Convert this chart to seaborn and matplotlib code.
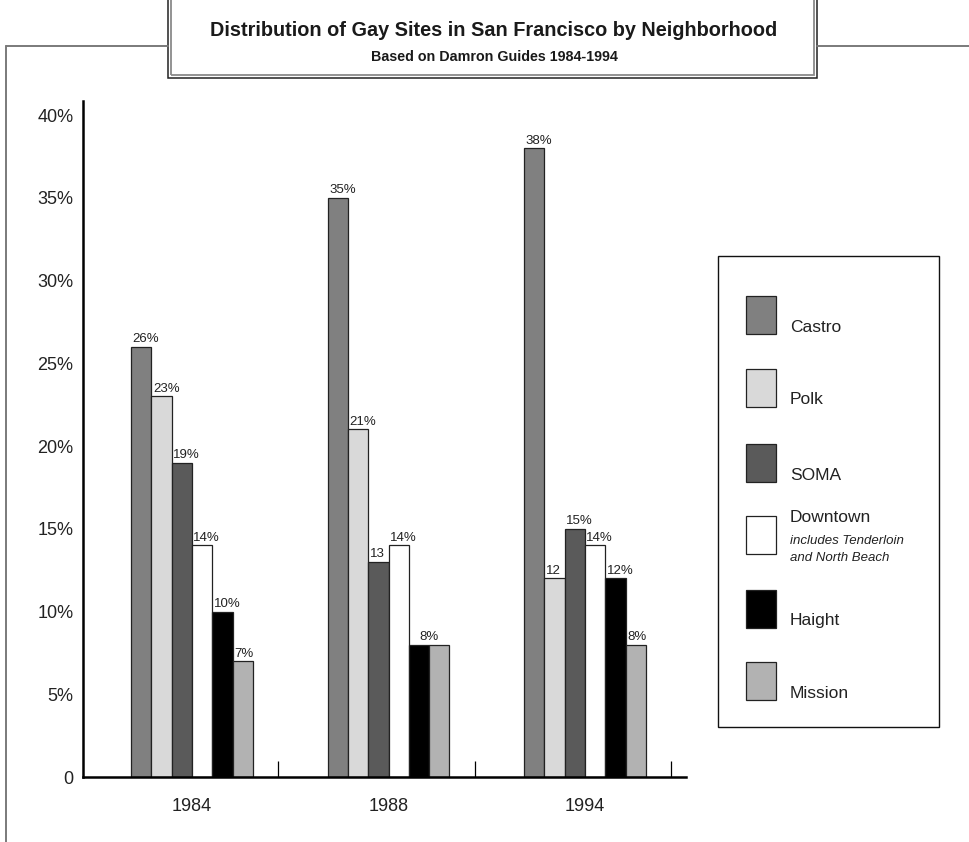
import matplotlib
matplotlib.use("Agg")
import matplotlib.pyplot as plt
import matplotlib.font_manager as fm
from matplotlib.patches import Rectangle
from matplotlib.lines import Line2D
import seaborn as sns
import pandas as pd

# ---- data ----
years = ["1984", "1988", "1994"]
neighborhoods = ["Castro", "Polk", "SOMA", "Downtown", "Haight", "Mission"]
castro = [26, 35, 38]
polk = [23, 21, 12]
soma = [19, 13, 15]
downtown = [14, 14, 14]
haight = [10, 8, 12]
mission = [7, 8, 8]
label_castro = ["26%", "35%", "38%"]
label_polk = ["23%", "21%", "12"]
label_soma = ["19%", "13", "15%"]
label_downtown = ["14%", "14%", "14%"]
label_haight = ["10%", "", "12%"]
label_mission = ["7%", "", "8%"]
shared_label = "8%"   # 1988 Haight & Mission share one label
yticks = [0, 5, 10, 15, 20, 25, 30, 35, 40]
ytick_labels = ["0", "5%", "10%", "15%", "20%", "25%", "30%", "35%", "40%"]
colors = ["#808080", "#d9d9d9", "#5a5a5a", "#ffffff", "#000000", "#b2b2b2"]
title = "Distribution of Gay Sites in San Francisco by Neighborhood"
subtitle = "Based on Damron Guides 1984-1994"

series = [castro, polk, soma, downtown, haight, mission]
labels = [label_castro, label_polk, label_soma, label_downtown, label_haight, label_mission]
rows = []
for n, vals in zip(neighborhoods, series):
    for y, v in zip(years, vals):
        rows.append({"year": y, "hood": n, "value": v})
df = pd.DataFrame(rows)

sns.set_theme(style="white")
names = {f.name for f in fm.fontManager.ttflist}
narrow = "Liberation Sans Narrow" if "Liberation Sans Narrow" in names else "Liberation Sans"
plt.rcParams["font.family"] = [narrow, "DejaVu Sans"]

W, H = 970, 842
fig = plt.figure(figsize=(W / 100, H / 100), dpi=100)
fig.patch.set_facecolor("white")

def fx(x):
    return x / W

def fy(y):
    return 1 - y / H

ax = fig.add_axes([fx(83), fy(777), fx(686) - fx(83), fy(101) - fy(777)])
sns.barplot(data=df, x="year", y="value", hue="hood", order=years,
            hue_order=neighborhoods, palette=colors, width=0.62, gap=0,
            edgecolor="#222222", linewidth=0.9, saturation=1, legend=False,
            errorbar=None, ax=ax)

ax.set_xlim(-0.555, 2.514)
ax.set_ylim(0, 40.85)
ax.set_facecolor("white")
for s in ["top", "right"]:
    ax.spines[s].set_visible(False)
for s in ["left", "bottom"]:
    ax.spines[s].set_color("black")
    ax.spines[s].set_linewidth(1.8)

ax.set_yticks(yticks)
ax.set_yticklabels(ytick_labels)
ax.tick_params(axis="y", direction="in", length=10, width=0.9, color="black",
               pad=7, labelsize=13, labelcolor="#222222")
ax.tick_params(axis="x", length=0, pad=15, labelsize=13, labelcolor="#222222")
ax.set_xticks([0.44, 1.44, 2.44], minor=True)
ax.tick_params(axis="x", which="minor", direction="in", length=11.5, width=0.9,
               color="black", bottom=True)
ax.set_xlabel("")
ax.set_ylabel("")
ax.grid(False)

# value labels, left-aligned at each bar's left edge
for cont, labs in zip(ax.containers, labels):
    for p, lab in zip(cont.patches, labs):
        if lab:
            ax.annotate(lab, (p.get_x(), p.get_height()), xytext=(1, 1),
                        textcoords="offset points", ha="left", va="bottom",
                        fontsize=9.5, color="#222222")

# shared label for 1988 Haight / Mission
hp = ax.containers[4].patches[1]
ax.annotate(shared_label, (hp.get_x() + hp.get_width(), hp.get_height()),
            xytext=(0, 1), textcoords="offset points", ha="center", va="bottom",
            fontsize=9.5, color="#222222")

# ---- frame lines ----
gray = "#7a7a7a"
fig.add_artist(Line2D([fx(6), fx(168)], [fy(46), fy(46)], color=gray, lw=1.4))
fig.add_artist(Line2D([fx(817), fx(970)], [fy(46), fy(46)], color=gray, lw=1.4))
fig.add_artist(Line2D([fx(6), fx(6)], [fy(46), fy(842)], color=gray, lw=1.4))

# ---- title box ----
fig.add_artist(Rectangle((fx(168), fy(78)), fx(817) - fx(168), fy(-2) - fy(78),
                         transform=fig.transFigure, facecolor="white",
                         edgecolor="#222222", lw=1.1))
fig.add_artist(Rectangle((fx(171), fy(75)), fx(814) - fx(171), fy(-2) - fy(75),
                         transform=fig.transFigure, facecolor="none",
                         edgecolor="#8a8a8a", lw=1.3))
fig.text(fx(494), fy(30), title, ha="center", va="center", fontsize=14.3,
         fontweight="bold", color="#1a1a1a")
fig.text(fx(494), fy(57), subtitle, ha="center", va="center", fontsize=10.3,
         fontweight="bold", color="#1a1a1a")

# ---- legend ----
fig.add_artist(Rectangle((fx(718), fy(727)), fx(939) - fx(718), fy(256) - fy(727),
                         transform=fig.transFigure, facecolor="white",
                         edgecolor="#111111", lw=1.0))
tops = [296, 369, 444, 516, 590, 662]
for i, (n, c) in enumerate(zip(neighborhoods, colors)):
    t = tops[i]
    fig.add_artist(Rectangle((fx(746), fy(t + 38)), fx(776) - fx(746), fy(t) - fy(t + 38),
                             transform=fig.transFigure, facecolor=c,
                             edgecolor="#222222", lw=0.9))
    if n == "Downtown":
        fig.text(fx(790), fy(t + 1), n, ha="left", va="center", fontsize=12.5, color="#222222")
        fig.text(fx(790), fy(t + 25), "includes Tenderloin", ha="left", va="center",
                 fontsize=9.5, style="italic", color="#222222")
        fig.text(fx(790), fy(t + 42), "and North Beach", ha="left", va="center",
                 fontsize=9.5, style="italic", color="#222222")
    else:
        fig.text(fx(790), fy(t + 31), n, ha="left", va="center", fontsize=12.5, color="#222222")

fig.savefig("out.png", dpi=100, facecolor="white")
